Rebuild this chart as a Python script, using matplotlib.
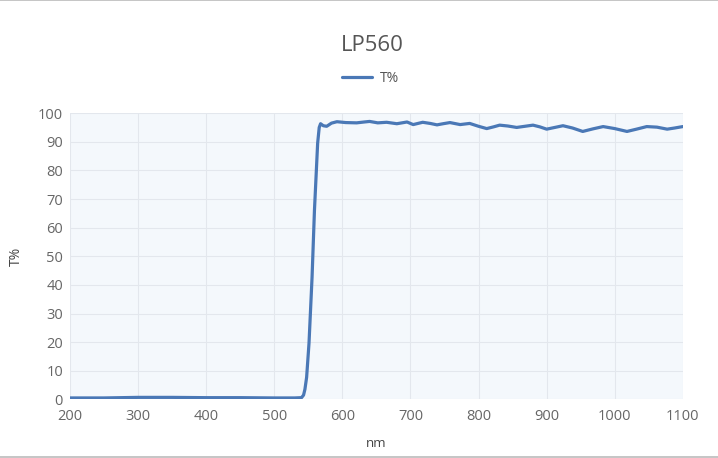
import matplotlib.pyplot as plt

plt.rcParams['font.family'] = ['Open Sans', 'DejaVu Sans']

# transmission curve of the LP560 long-pass filter
wl = [200, 250, 300, 350, 400, 450, 500, 530, 540, 543, 545, 547.5, 551,
      555.5, 559, 563.7, 566, 568, 572, 577, 584, 592, 605, 621, 632, 640,
      652, 665, 680, 695, 704, 718, 729, 739, 748, 758, 773, 787, 800, 812,
      822, 831, 843, 856, 868, 880, 890, 900, 912, 924, 938, 953, 968, 983,
      1000, 1018, 1032, 1047, 1062, 1077, 1088, 1100]
T = [0.5, 0.5, 0.7, 0.7, 0.6, 0.6, 0.5, 0.5, 0.6, 1.5, 3.5, 7.7, 19.6,
     42.7, 66, 89.5, 95, 96.3, 95.6, 95.4, 96.5, 97, 96.7, 96.6, 96.9, 97.1,
     96.6, 96.8, 96.3, 96.9, 96.0, 96.8, 96.4, 95.9, 96.3, 96.7, 96.0, 96.4,
     95.4, 94.6, 95.2, 95.8, 95.5, 95.0, 95.4, 95.8, 95.2, 94.4, 95.0, 95.6,
     94.8, 93.6, 94.5, 95.3, 94.6, 93.6, 94.4, 95.3, 95.1, 94.4, 94.8, 95.3]

xticks = list(range(200, 1101, 100))
yticks = list(range(0, 101, 10))

fig = plt.figure(figsize=(7.18, 4.58), dpi=100)
ax = fig.add_axes([0.0975, 0.128, 0.8535, 0.625])
ax.set_facecolor('#f4f8fc')

ax.plot(wl, T, color='#4a78b6', lw=2.3, label='T%', solid_capstyle='round')

ax.set_xlim(200, 1100)
ax.set_ylim(0, 100)
ax.set_xticks(xticks)
ax.set_yticks(yticks)
ax.grid(True, color='#e3e7ed', lw=0.8)
ax.set_axisbelow(True)
for s in ax.spines.values():
    s.set_visible(False)
ax.tick_params(axis='x', length=0, labelsize=10.5, colors='#666666', pad=7)
ax.tick_params(axis='y', length=0, labelsize=10.5, colors='#666666', pad=5)

ax.set_xlabel('nm', fontsize=9.5, color='#444444', labelpad=9)
ax.set_ylabel('T%', fontsize=10, color='#444444', labelpad=10)

fig.text(0.518, 0.9, 'LP560', ha='center', va='center', fontsize=16,
         color='#555555')
ax.legend(loc='lower center', bbox_to_anchor=(0.49, 1.05), frameon=False,
          fontsize=10, handlelength=2.2, handletextpad=0.5,
          labelcolor='#555555')

# thin gray frame lines at top and bottom of the image
fig.add_artist(plt.Line2D([0, 1], [0.999, 0.999], color='#bbbbbb', lw=1.2))
fig.add_artist(plt.Line2D([0, 1], [0.003, 0.003], color='#bbbbbb', lw=1.2))

plt.savefig('out.png', dpi=100)
